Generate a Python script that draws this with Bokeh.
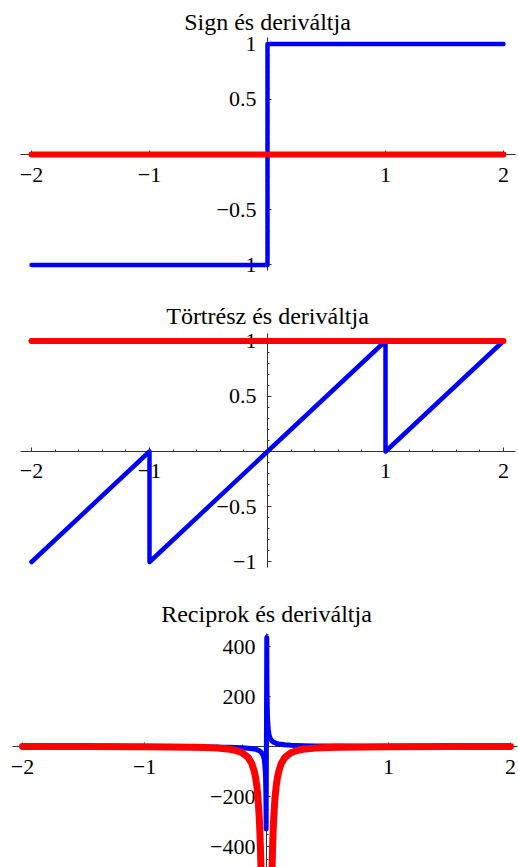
from bokeh.plotting import figure
from bokeh.models import LinearAxis, FixedTicker, CustomJSTickFormatter, Label, Range1d
from bokeh.layouts import column
from bokeh.embed import file_html
from bokeh.resources import INLINE

# ---------------- data ----------------
titles = ["Sign és deriváltja", "Törtrész és deriváltja", "Reciprok és deriváltja"]

# Panel 1: Sign and its derivative
sign_x = [-2, 0, 0, 2]
sign_y = [-1, -1, 1, 1]
dsign_x = [-2, 2]
dsign_y = [0, 0]

# Panel 2: FractionalPart and its derivative
frac_x = [-2, -1, -1, 1, 1, 2]
frac_y = [-1, 0, -1, 1, 0, 1]
dfrac_x = [-2, 2]
dfrac_y = [1, 1]

# Panel 3: reciprocal and its derivative
recip_x = [-2, -1.5, -1, -0.8, -0.6, -0.5, -0.4, -0.3, -0.25, -0.2, -0.15, -0.1,
           -0.08, -0.06, -0.05, -0.04, -0.03, -0.025, -0.02, -0.015, -0.01, -0.008,
           -0.006, -0.005, -0.004, -0.003,
           0.0023, 0.003, 0.004, 0.005, 0.006, 0.008, 0.01, 0.015, 0.02, 0.025, 0.03,
           0.04, 0.05, 0.06, 0.08, 0.1, 0.15, 0.2, 0.25, 0.3, 0.4, 0.5, 0.6, 0.8, 1,
           1.5, 2]
recip_y = [-0.5, -0.667, -1, -1.25, -1.667, -2, -2.5, -3.33, -4, -5, -6.67, -10,
           -12.5, -16.7, -20, -25, -33.3, -40, -50, -66.7, -100, -125,
           -167, -200, -250, -330,
           436, 333, 250, 200, 167, 125, 100, 66.7, 50, 40, 33.3,
           25, 20, 16.7, 12.5, 10, 6.67, 5, 4, 3.33, 2.5, 2, 1.67, 1.25, 1,
           0.667, 0.5]
drecip_left_x = [-2, -1.5, -1, -0.8, -0.6, -0.5, -0.4, -0.3, -0.25, -0.2, -0.15, -0.12,
                 -0.1, -0.09, -0.08, -0.07, -0.06, -0.055, -0.05, -0.045, -0.04, -0.035, -0.03]
drecip_left_y = [-0.25, -0.444, -1, -1.56, -2.78, -4, -6.25, -11.1, -16, -25, -44.4, -69.4,
                 -100, -123, -156, -204, -278, -331, -400, -494, -625, -816, -1111]
drecip_right_x = [0.03, 0.035, 0.04, 0.045, 0.05, 0.055, 0.06, 0.07, 0.08, 0.09, 0.1, 0.12,
                  0.15, 0.2, 0.25, 0.3, 0.4, 0.5, 0.6, 0.8, 1, 1.5, 2]
drecip_right_y = [-1111, -816, -625, -494, -400, -331, -278, -204, -156, -123, -100, -69.4,
                  -44.4, -25, -16, -11.1, -6.25, -4, -2.78, -1.56, -1, -0.444, -0.25]

# tick positions / labels
x_major = [-2, -1, 1, 2]
x_minor = [-1.8, -1.6, -1.4, -1.2, -0.8, -0.6, -0.4, -0.2,
           0.2, 0.4, 0.6, 0.8, 1.2, 1.4, 1.6, 1.8]
y_major_unit = [-1, -0.5, 0.5, 1]
y_minor_unit = [-0.9, -0.8, -0.7, -0.6, -0.4, -0.3, -0.2, -0.1,
                0.1, 0.2, 0.3, 0.4, 0.6, 0.7, 0.8, 0.9]
y_major_recip = [-400, -200, 200, 400]
y_minor_recip = [-450, -350, -300, -250, -150, -100, -50, 50, 100, 150, 250, 300, 350, 450]

# ---------------- styling ----------------
BLUE = "#0000ff"
RED = "#ff0000"
FONT = "Liberation Serif"
AXIS_COLOR = "#333333"
W = 518

fmt_code = "return (tick < 0 ? '\u2212' : '') + Math.abs(tick);"


def make_panel(height, xr, yr, xbounds, ybounds, ymajor, yminor, title, title_y):
    p = figure(width=W, height=height, x_range=Range1d(*xr), y_range=Range1d(*yr),
               x_axis_type=None, y_axis_type=None, toolbar_location=None,
               output_backend="svg", min_border=0)
    p.min_border_left = p.min_border_right = p.min_border_top = p.min_border_bottom = 0
    p.grid.visible = False
    p.outline_line_color = None
    p.background_fill_color = "white"
    p.border_fill_color = "white"

    xaxis = LinearAxis(fixed_location=0, bounds=xbounds,
                       ticker=FixedTicker(ticks=x_major, minor_ticks=x_minor),
                       formatter=CustomJSTickFormatter(code=fmt_code))
    yaxis = LinearAxis(fixed_location=0, bounds=ybounds,
                       ticker=FixedTicker(ticks=ymajor, minor_ticks=yminor),
                       formatter=CustomJSTickFormatter(code=fmt_code))
    for ax in (xaxis, yaxis):
        ax.level = "underlay"
        ax.axis_line_color = AXIS_COLOR
        ax.axis_line_width = 1
        ax.major_tick_line_color = AXIS_COLOR
        ax.minor_tick_line_color = AXIS_COLOR
        ax.major_tick_in = 4
        ax.major_tick_out = 0
        ax.minor_tick_in = 2
        ax.minor_tick_out = 0
        ax.major_label_text_font = FONT
        ax.major_label_text_font_size = "22px"
        ax.major_label_text_color = "black"
    xaxis.major_label_standoff = 13
    yaxis.major_label_standoff = 11
    p.add_layout(xaxis, "below")
    p.add_layout(yaxis, "left")

    p.add_layout(Label(x=0, y=title_y, text=title, text_font=FONT,
                       text_font_size="24px", text_align="center",
                       text_baseline="alphabetic", text_color="black"))
    return p


# Panel 1
p1 = make_panel(288, (-2.2627, 2.1271), (-1.2127, 1.3937), (-2.093, 2.1017), (-1.05, 1.06),
                y_major_unit, y_minor_unit, titles[0], 1.203)
p1.line(sign_x, sign_y, line_color=BLUE, line_width=4.5, line_cap="round", line_join="round")
p1.line(dsign_x, dsign_y, line_color=RED, line_width=6, line_cap="round", line_join="round")

# Panel 2
p2 = make_panel(297, (-2.2627, 2.1271), (-1.2127, 1.4751), (-2.093, 2.1017), (-1.05, 1.07),
                y_major_unit, y_minor_unit, titles[1], 1.230)
p2.line(frac_x, frac_y, line_color=BLUE, line_width=4.5, line_cap="round", line_join="round")
p2.line(dfrac_x, dfrac_y, line_color=RED, line_width=6, line_cap="round", line_join="round")

# Panel 3
p3 = make_panel(282, (-2.1803, 2.0656), (-484, 644), (-2.082, 2.057), (-500, 452),
                y_major_recip, y_minor_recip, titles[2], 532)
p3.line(recip_x, recip_y, line_color=BLUE, line_width=5, line_cap="round", line_join="round")
p3.line(drecip_left_x, drecip_left_y, line_color=RED, line_width=7, line_cap="round", line_join="round")
p3.line(drecip_right_x, drecip_right_y, line_color=RED, line_width=7, line_cap="round", line_join="round")

layout = column(p1, p2, p3, spacing=0)

with open("out.html", "w", encoding="utf-8") as f:
    f.write(file_html(layout, INLINE))
